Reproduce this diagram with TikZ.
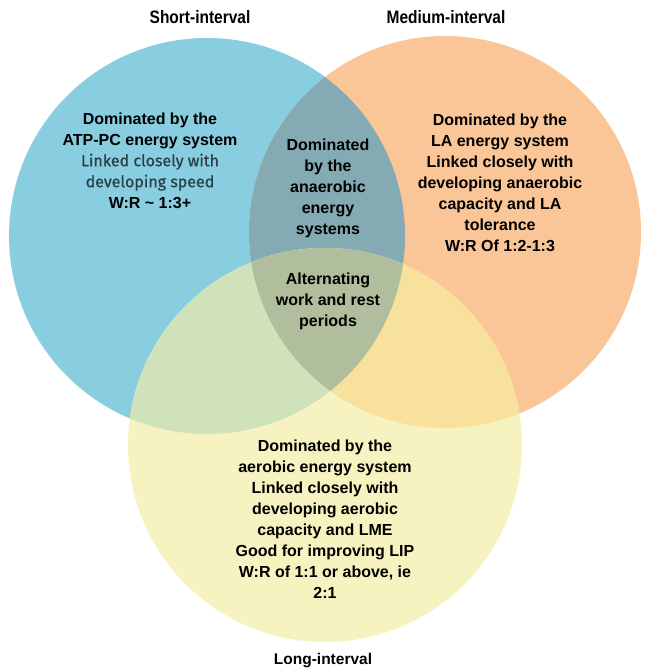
\documentclass[tikz,border=0pt]{standalone}
\usepackage{fontspec}
\setmainfont{Liberation Sans}
\newfontfamily\titlefont[FakeStretch=0.86]{Liberation Sans}
\newfontfamily\dinfont[FakeBold=0.7]{Fira Sans}
\definecolor{cblue}{HTML}{89CDE1}
\definecolor{corange}{HTML}{FAC698}
\definecolor{cyellow}{HTML}{F7F3C0}
\definecolor{cBO}{HTML}{84ABB3}
\definecolor{cBY}{HTML}{CFE2BA}
\definecolor{cOY}{HTML}{F8E19D}
\definecolor{cBOY}{HTML}{B0BE9E}
\definecolor{dintext}{HTML}{2A3F48}
\tikzset{
  bodytext/.style={align=center, inner sep=0pt, text=black,
    font=\fontsize{16}{21}\selectfont\bfseries},
  settitle/.style={inner sep=0pt, text=black,
    font=\titlefont\fontsize{18}{20}\selectfont\bfseries},
}
\begin{document}
\begin{tikzpicture}[x=1pt,y=-1pt]
\useasboundingbox[fill=white] (0,0) rectangle (644,668);

% circle centres
\coordinate (B) at (207,236);
\coordinate (O) at (445,232);
\coordinate (Y) at (325,445);
\def\rB{198pt}
\def\rO{196pt}
\def\rY{197pt}

% single sets
\fill[cblue] (B) circle[radius=\rB];
\fill[corange] (O) circle[radius=\rO];
\fill[cyellow] (Y) circle[radius=\rY];

% pairwise overlaps
\begin{scope}
  \clip (B) circle[radius=\rB];
  \fill[cBO] (O) circle[radius=\rO];
  \fill[cBY] (Y) circle[radius=\rY];
\end{scope}
\begin{scope}
  \clip (O) circle[radius=\rO];
  \fill[cOY] (Y) circle[radius=\rY];
\end{scope}
% triple overlap
\begin{scope}
  \clip (B) circle[radius=\rB];
  \clip (O) circle[radius=\rO];
  \fill[cBOY] (Y) circle[radius=\rY];
\end{scope}

% set titles
\node[settitle] (tshort) at (200,17) {Short-interval};
\node[settitle] (tmedium) at (446,17) {Medium-interval};
\node[inner sep=0pt, font=\fontsize{15.5}{18}\selectfont\bfseries] (tlong) at (323,661) {Long-interval};

% region texts
\node[bodytext] (short) at (150,160.5) {Dominated by the\\ATP-PC energy system\\
  {\dinfont\mdseries\color{dintext}Linked closely with}\\
  {\dinfont\mdseries\color{dintext}developing speed}\\
  W:R \textasciitilde{} 1:3+};
\node[bodytext] (anaer) at (328,188) {Dominated\\by the\\anaerobic\\energy\\systems};
\node[bodytext] (alt) at (328,301) {Alternating\\work and rest\\periods};
\node[bodytext] (medium) at (500,183) {Dominated by the\\LA energy system\\Linked closely with\\
  developing anaerobic\\capacity and LA\\tolerance\\W:R Of 1:2-1:3};
\node[bodytext] (long) at (325,519.5) {Dominated by the\\aerobic energy system\\Linked closely with\\
  developing aerobic\\capacity and LME\\Good for improving LIP\\W:R of 1:1 or above, ie\\2:1};
\end{tikzpicture}
\end{document}
